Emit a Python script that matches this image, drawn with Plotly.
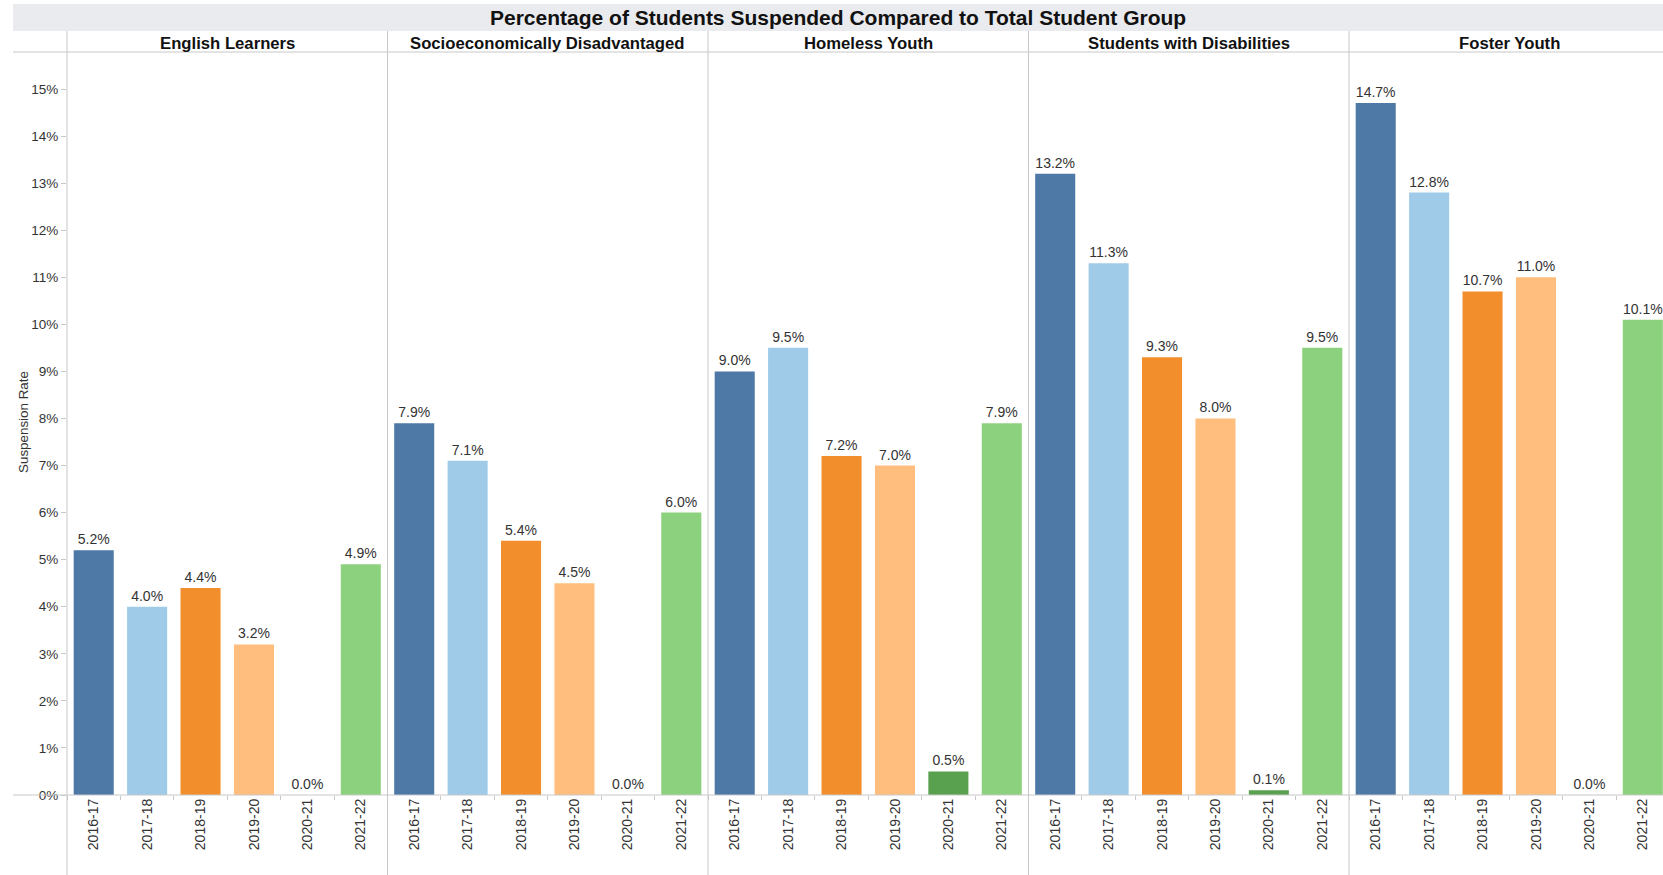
import plotly.graph_objects as go

years = ["2016-17", "2017-18", "2018-19", "2019-20", "2020-21", "2021-22"]
groups = ["English Learners", "Socioeconomically Disadvantaged", "Homeless Youth",
          "Students with Disabilities", "Foster Youth"]
english_learners = [5.2, 4.0, 4.4, 3.2, 0.0, 4.9]
socio_disadvantaged = [7.9, 7.1, 5.4, 4.5, 0.0, 6.0]
homeless_youth = [9.0, 9.5, 7.2, 7.0, 0.5, 7.9]
students_disabilities = [13.2, 11.3, 9.3, 8.0, 0.1, 9.5]
foster_youth = [14.7, 12.8, 10.7, 11.0, 0.0, 10.1]
series = [english_learners, socio_disadvantaged, homeless_youth, students_disabilities, foster_youth]
year_colors = ["#4E79A7", "#A0CBE8", "#F28E2B", "#FFBE7D", "#59A14F", "#8CD17D"]
y_ticks = list(range(0, 16))

W, H = 1663, 875
FONT = "Liberation Sans, Arial, sans-serif"
left0 = 67.0
panel_w = 320.5
y_base = 795.0
y_top = 52.0
px_per_pct = (y_base - 89.0) / 15.0
y_max = (y_base - y_top) / px_per_pct

fig = go.Figure()
layout = dict(
    width=W, height=H, margin=dict(l=0, r=0, t=0, b=0),
    paper_bgcolor="white", plot_bgcolor="white",
    showlegend=False, bargap=0.25,
    font=dict(family=FONT, color="#333333"),
)

shapes = []
annotations = []
for i, (g, vals) in enumerate(zip(groups, series)):
    x0 = left0 + panel_w * i
    x1 = x0 + panel_w
    key = "xaxis" if i == 0 else f"xaxis{i+1}"
    ref = "x" if i == 0 else f"x{i+1}"
    dom_end = min(x1, W) / W
    n_vis = (min(x1, W) - x0) / (panel_w / 6)
    layout[key] = dict(
        domain=[x0 / W, dom_end], anchor="y", type="category",
        categoryorder="array", categoryarray=years,
        range=[-0.5, -0.5 + n_vis],
        tickangle=-90, tickfont=dict(size=14, color="#333333", family=FONT),
        ticks="outside", tickson="boundaries", ticklen=4, tickcolor="#C8C8C8",
        showline=False, showgrid=False, zeroline=False, automargin=False,
    )
    fig.add_trace(go.Bar(
        x=years, y=vals, xaxis=ref, yaxis="y",
        marker=dict(color=year_colors, line=dict(width=0)),
        text=[f"{v:.1f}%" for v in vals], textposition="outside",
        textfont=dict(size=14, color="#333333", family=FONT),
        cliponaxis=False, hoverinfo="skip",
    ))
    shapes.append(dict(type="line", xref="paper", yref="paper",
                       x0=x0 / W, x1=x0 / W, y0=0, y1=(H - 31) / H,
                       line=dict(color="#C8C8C8", width=1)))
    annotations.append(dict(text=f"<b>{g}</b>", xref="paper", yref="paper",
                            x=(x0 + x1) / 2 / W, y=(H - 43) / H,
                            xanchor="center", yanchor="middle", showarrow=False,
                            font=dict(size=16.7, color="#111111", family=FONT)))

layout["yaxis"] = dict(
    domain=[(H - y_base) / H, (H - y_top) / H], anchor="x",
    range=[0, y_max], tickvals=y_ticks, ticktext=[f"{t}%" for t in y_ticks],
    ticks="outside", ticklen=5, tickcolor="#C8C8C8",
    tickfont=dict(size=13.5, color="#333333", family=FONT),
    showgrid=False, zeroline=False, showline=False, automargin=False,
)

shapes.insert(0, dict(type="rect", xref="paper", yref="paper",
                      x0=13 / W, x1=1, y0=(H - 31) / H, y1=(H - 4) / H,
                      fillcolor="#EAEBEE", line=dict(width=0), layer="below"))
shapes.append(dict(type="line", xref="paper", yref="paper", x0=13 / W, x1=1,
                   y0=(H - y_top) / H, y1=(H - y_top) / H,
                   line=dict(color="#C8C8C8", width=1)))
shapes.append(dict(type="line", xref="paper", yref="paper", x0=13 / W, x1=1,
                   y0=(H - y_base) / H, y1=(H - y_base) / H,
                   line=dict(color="#C8C8C8", width=1)))

annotations.append(dict(text="<b>Percentage of Students Suspended Compared to Total Student Group</b>",
                        xref="paper", yref="paper", x=(13 + W) / 2 / W, y=(H - 17) / H,
                        xanchor="center", yanchor="middle", showarrow=False,
                        font=dict(size=21, color="#111111", family=FONT)))
annotations.append(dict(text="Suspension Rate", xref="paper", yref="paper",
                        x=23 / W, y=(H - 422) / H, textangle=-90,
                        xanchor="center", yanchor="middle", showarrow=False,
                        font=dict(size=13.4, color="#333333", family=FONT)))

layout["shapes"] = shapes
layout["annotations"] = annotations
fig.update_layout(**layout)
fig.write_html("out.html")
